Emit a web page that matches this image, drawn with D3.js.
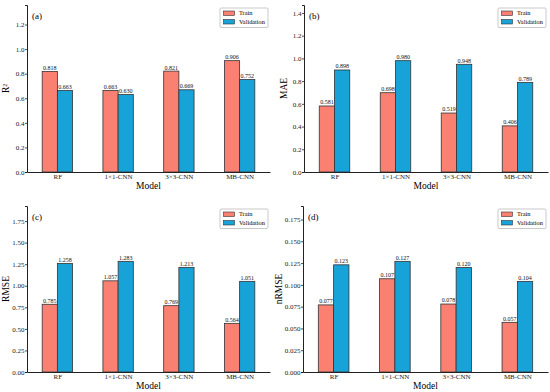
<!DOCTYPE html>
<html>
<head>
<meta charset="utf-8">
<script src="https://cdn.jsdelivr.net/npm/d3@7"></script>
<style>
  body { margin: 0; background: #fff; }
  svg { font-family: "Liberation Serif", "Times New Roman", serif; }
</style>
</head>
<body>
<script>
// data
var models = ["RF", "1×1-CNN", "3×3-CNN", "MB-CNN"];
var seriesNames = ["Train", "Validation"];

var r2Train = [0.818, 0.663, 0.821, 0.906];
var r2Val = [0.663, 0.630, 0.669, 0.752];
var maeTrain = [0.581, 0.698, 0.519, 0.406];
var maeVal = [0.898, 0.980, 0.948, 0.789];
var rmseTrain = [0.785, 1.057, 0.769, 0.564];
var rmseVal = [1.258, 1.283, 1.213, 1.051];
var nrmseTrain = [0.077, 0.107, 0.078, 0.057];
var nrmseVal = [0.123, 0.127, 0.120, 0.104];

var r2Ticks = [0, 0.2, 0.4, 0.6, 0.8, 1.0, 1.2];
var maeTicks = [0, 0.2, 0.4, 0.6, 0.8, 1.0, 1.2, 1.4];
var rmseTicks = [0, 0.25, 0.5, 0.75, 1.0, 1.25, 1.5, 1.75];
var nrmseTicks = [0, 0.025, 0.05, 0.075, 0.1, 0.125, 0.15, 0.175];

var colors = ["#fa8072", "#17a2d8"];

var svg = d3.select("body").append("svg")
    .attr("width", 550)
    .attr("height", 392);

// panel boxes
var panels = [
  {tag: "(a)", title: "R²", train: r2Train, val: r2Val, ticks: r2Ticks, fmt: ".1f",
   left: 27, right: 270, top: 5, bottom: 172, titleX: 9},
  {tag: "(b)", title: "MAE", train: maeTrain, val: maeVal, ticks: maeTicks, fmt: ".1f",
   left: 304, right: 548, top: 5, bottom: 172, titleX: 287},
  {tag: "(c)", title: "RMSE", train: rmseTrain, val: rmseVal, ticks: rmseTicks, fmt: ".2f",
   left: 27, right: 270, top: 206, bottom: 372, titleX: 9},
  {tag: "(d)", title: "nRMSE", train: nrmseTrain, val: nrmseVal, ticks: nrmseTicks, fmt: ".3f",
   left: 303, right: 548, top: 206, bottom: 372, titleX: 282}
];

function drawPanel(p) {
  var g = svg.append("g");
  var maxV = d3.max(p.train.concat(p.val));

  var x = d3.scaleLinear().domain([-0.5, 3.5]).range([p.left, p.right]);
  var y = d3.scaleLinear().domain([0, maxV * 1.5]).range([p.bottom, p.top]);
  var bw = 0.25;

  // bars + value labels
  [p.train, p.val].forEach(function(vals, si) {
    var off = si == 0 ? -bw : 0;
    g.append("g").selectAll("rect")
        .data(vals)
      .enter().append("rect")
        .attr("x", function(d, i) { return x(i + off); })
        .attr("width", x(bw) - x(0))
        .attr("y", function(d) { return y(d); })
        .attr("height", function(d) { return y(0) - y(d); })
        .style("fill", colors[si])
        .style("stroke", "#333")
        .style("stroke-width", 0.8);

    g.append("g").selectAll("text")
        .data(vals)
      .enter().append("text")
        .attr("x", function(d, i) { return x(i + off + bw / 2); })
        .attr("y", function(d) { return y(d) - 1.6; })
        .attr("text-anchor", "middle")
        .style("font-size", "6px")
        .style("fill", "#111")
        .text(function(d) { return d3.format(".3f")(d); });
  });

  // axes
  var yAxis = d3.axisLeft(y).tickValues(p.ticks).tickFormat(d3.format(p.fmt)).tickSizeOuter(0).tickSize(2);
  var ya = g.append("g").attr("transform", "translate(" + p.left + ",0)").call(yAxis);
  var xAxis = d3.axisBottom(x).tickValues([0, 1, 2, 3])
      .tickFormat(function(d) { return models[d]; }).tickSizeOuter(0).tickSize(0);
  var xa = g.append("g").attr("transform", "translate(0," + p.bottom + ")").call(xAxis);

  [ya, xa].forEach(function(a) {
    a.select(".domain").style("stroke", "#222").style("stroke-width", 1);
    a.selectAll(".tick line").style("stroke", "#222").style("stroke-width", 0.8);
    a.selectAll(".tick text").style("font-family", "Liberation Serif").style("font-size", "7px").style("fill", "#222");
  });
  ya.selectAll(".tick text").attr("x", -2.5);
  xa.selectAll(".tick text").attr("y", 2.5);

  // axis titles
  g.append("text")
      .attr("x", (p.left + p.right) / 2)
      .attr("y", p.bottom + 16.5)
      .attr("text-anchor", "middle")
      .style("font-size", "9.5px")
      .text("Model");
  g.append("text")
      .attr("transform", "translate(" + p.titleX + "," + (p.top + p.bottom) / 2 + ") rotate(-90)")
      .attr("text-anchor", "middle")
      .style("font-size", "9.5px")
      .text(p.title);

  // panel tag
  g.append("text")
      .attr("x", p.left + 5)
      .attr("y", p.top + 14)
      .style("font-size", "9px")
      .text(p.tag);

  // legend
  var lx = p.right - 50, ly = p.top + 3;
  var leg = g.append("g").attr("transform", "translate(" + lx + "," + ly + ")");
  leg.append("rect")
      .attr("width", 48).attr("height", 19.5)
      .attr("rx", 1)
      .style("fill", "#fff").style("stroke", "#bbb").style("stroke-width", 0.8);
  seriesNames.forEach(function(s, i) {
    leg.append("rect")
        .attr("x", 3.5).attr("y", 3 + i * 8.5)
        .attr("width", 11).attr("height", 4.5)
        .style("fill", colors[i]).style("stroke", "#333").style("stroke-width", 0.6);
    leg.append("text")
        .attr("x", 19).attr("y", 7.3 + i * 8.5)
        .style("font-size", "6.3px")
        .text(s);
  });
}

panels.forEach(drawPanel);
</script>
</body>
</html>
